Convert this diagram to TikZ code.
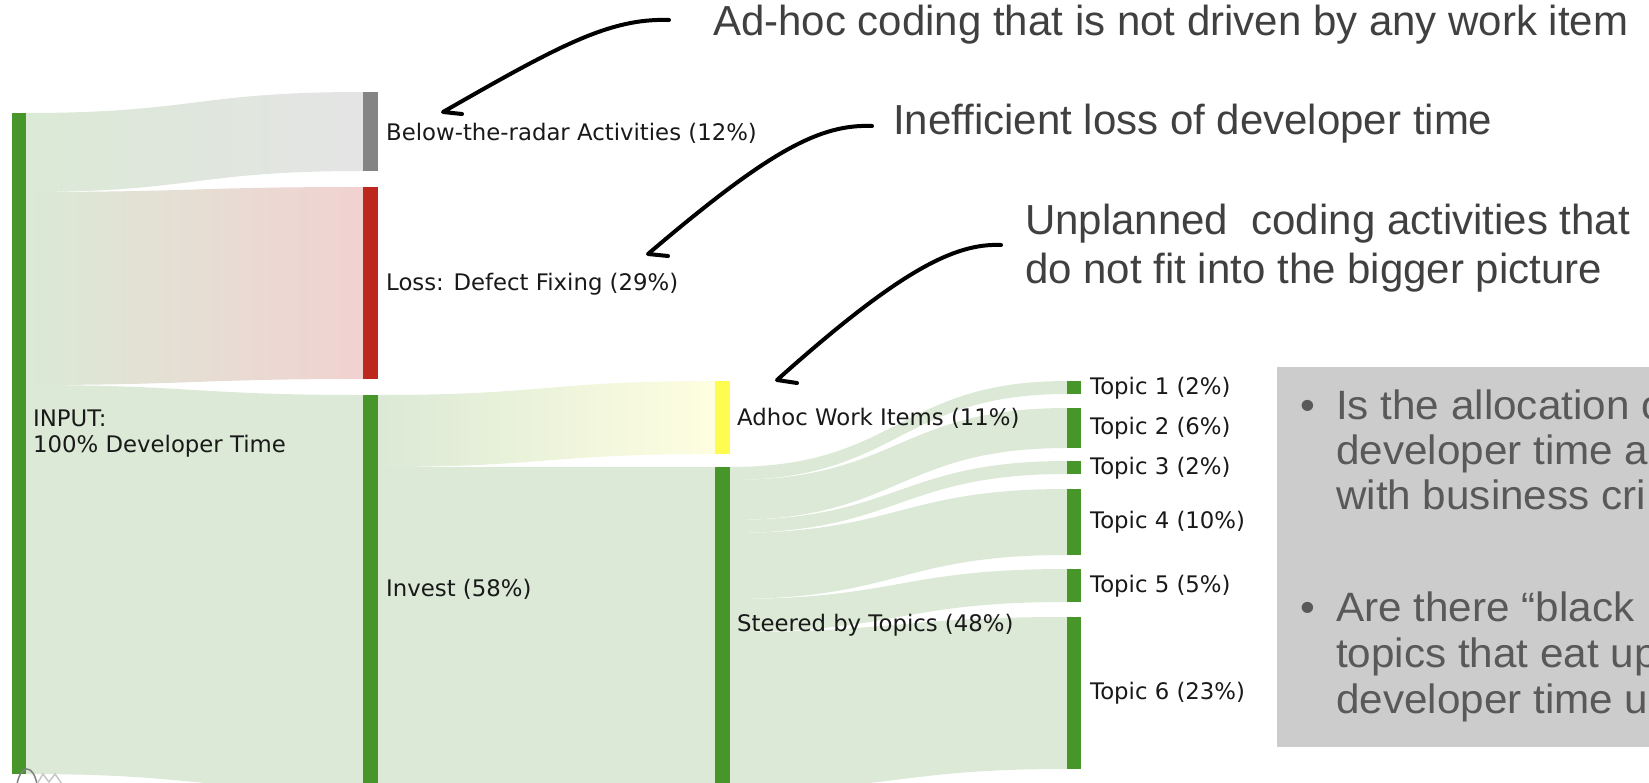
\documentclass[tikz,border=0pt]{standalone}
\usepackage{fontspec}
\setmainfont{DejaVu Sans}
\newfontfamily\annfont{Liberation Sans}
\newfontfamily\boxfont[FakeStretch=1.03]{Liberation Sans}
\definecolor{barG}{RGB}{70,150,42}
\definecolor{flowG}{RGB}{219,233,214}
\definecolor{barGray}{RGB}{132,132,132}
\definecolor{flowGray}{RGB}{228,228,228}
\definecolor{barRed}{RGB}{189,40,30}
\definecolor{flowRed}{RGB}{241,210,209}
\definecolor{barYel}{RGB}{255,252,80}
\definecolor{flowYel}{RGB}{254,254,224}
\definecolor{annGray}{RGB}{64,64,64}
\definecolor{boxBg}{RGB}{204,204,204}
\definecolor{boxText}{RGB}{89,89,89}
\newcommand{\sflow}[7]{\path[#7] (#1,#2) .. controls ({(#1+#4)/2},#2) and ({(#1+#4)/2},#5) .. (#4,#5) -- (#4,#6) .. controls ({(#1+#4)/2},#6) and ({(#1+#4)/2},#3) .. (#1,#3) -- cycle;}
\begin{document}
\begin{tikzpicture}[x=1pt,y=-1pt,
  lbl/.style={anchor=west,inner sep=0pt,font=\fontsize{22.8}{26}\selectfont,text=black!90},
  ann/.style={anchor=base west,inner sep=0pt,font=\annfont\fontsize{42}{50}\selectfont,text=annGray},
  boxtxt/.style={anchor=base west,inner sep=0pt,font=\boxfont\fontsize{41}{46}\selectfont,text=boxText},
  callout/.style={line width=4pt,line cap=round,line join=round,black}]
\useasboundingbox (0,0) rectangle (1649,782);
\begin{scope}
\clip (0,0) rectangle (1649,782);
% flows level 1
\sflow{26}{113}{192}{363}{92}{171}{left color=flowG,right color=flowGray}
\sflow{26}{192}{385}{363}{187}{379}{left color=flowG,right color=flowRed}
\sflow{26}{385}{774}{363}{395}{790}{fill=flowG}
% flows level 2
\sflow{378}{395}{467}{715}{381}{454}{left color=flowG,right color=flowYel}
\sflow{378}{467}{790}{715}{467}{790}{fill=flowG}
% flows level 3
\sflow{730}{467}{480}{1067}{381}{394}{fill=flowG}
\sflow{730}{480}{520}{1067}{408}{448}{fill=flowG}
\sflow{730}{520}{533}{1067}{461}{474}{fill=flowG}
\sflow{730}{533}{599}{1067}{489}{555}{fill=flowG}
\sflow{730}{599}{632}{1067}{569}{602}{fill=flowG}
\sflow{730}{632}{790}{1067}{617}{769}{fill=flowG}
% bars
\fill[barG] (12,113) rectangle (26,774);
\fill[barGray] (363,92) rectangle (378,171);
\fill[barRed] (363,187) rectangle (378,379);
\fill[barG] (363,395) rectangle (378,790);
\fill[barYel] (715,381) rectangle (730,454);
\fill[barG] (715,467) rectangle (730,790);
\fill[barG] (1067,381) rectangle (1081,394);
\fill[barG] (1067,408) rectangle (1081,448);
\fill[barG] (1067,461) rectangle (1081,474);
\fill[barG] (1067,489) rectangle (1081,555);
\fill[barG] (1067,569) rectangle (1081,602);
\fill[barG] (1067,617) rectangle (1081,769);
% labels
\node[lbl,anchor=base west,align=left] (input) at (33,452) {INPUT:\\100\% Developer Time};
\node[lbl] (below) at (386,133) {Below-the-radar Activities (12\%)};
\node[lbl] (loss) at (386,284) {Loss: Defect Fixing (29\%)};
\node[lbl] (invest) at (386,589) {Invest (58\%)};
\node[lbl] (adhoc) at (737,418) {Adhoc Work Items (11\%)};
\node[lbl] (steered) at (737,625) {Steered by Topics (48\%)};
\node[lbl] (t1) at (1090,388) {Topic 1 (2\%)};
\node[lbl] (t2) at (1090,428) {Topic 2 (6\%)};
\node[lbl] (t3) at (1090,468) {Topic 3 (2\%)};
\node[lbl] (t4) at (1090,522) {Topic 4 (10\%)};
\node[lbl] (t5) at (1090,586) {Topic 5 (5\%)};
\node[lbl] (t6) at (1090,693) {Topic 6 (23\%)};
% annotations
\node[ann] (a1) at (713,35) {Ad-hoc coding that is not driven by any work item};
\node[ann] (a2) at (893,134) {Inefficient loss of developer time};
\node[ann] (a3) at (1025,234) {Unplanned\ \ coding activities that};
\node[ann] (a3b) at (1025,283) {do not fit into the bigger picture};
\coordinate (c1s) at (669,20);
\coordinate (c1e) at (443,112);
\coordinate (c2s) at (872,126);
\coordinate (c2e) at (648,254);
\coordinate (c3s) at (1001,245);
\coordinate (c3e) at (777,380);
\draw[callout] (c1s) .. controls (610,18) and (560,45) .. (c1e) -- ++(19,2);
\draw[callout] (c2s) .. controls (820,124) and (770,150) .. (c2e) -- ++(20,2);
\draw[callout] (c3s) .. controls (955,243) and (900,270) .. (c3e) -- ++(20,3);
% grey box
\fill[boxBg] (1277,367) rectangle (1660,747);
\node[boxtxt] (b1) at (1300,419) {•};
\node[boxtxt] (l1) at (1336,419) {Is the allocation o};
\node[boxtxt] (l2) at (1336,464) {developer time a};
\node[boxtxt] (l3) at (1336,509) {with business cri};
\node[boxtxt] (b2) at (1300,621) {•};
\node[boxtxt] (l4) at (1336,621) {Are there “black};
\node[boxtxt] (l5) at (1336,667) {topics that eat up};
\node[boxtxt] (l6) at (1336,713) {developer time u};
% little icon bottom-left
\draw[gray,line width=1.5pt] (17,784) .. controls (21,764) and (33,764) .. (37,784);
\draw[gray!45,line width=1.5pt] (37,784) -- (43,774) -- (49,782) -- (55,774) -- (62,784);
\end{scope}
\end{tikzpicture}
\end{document}
